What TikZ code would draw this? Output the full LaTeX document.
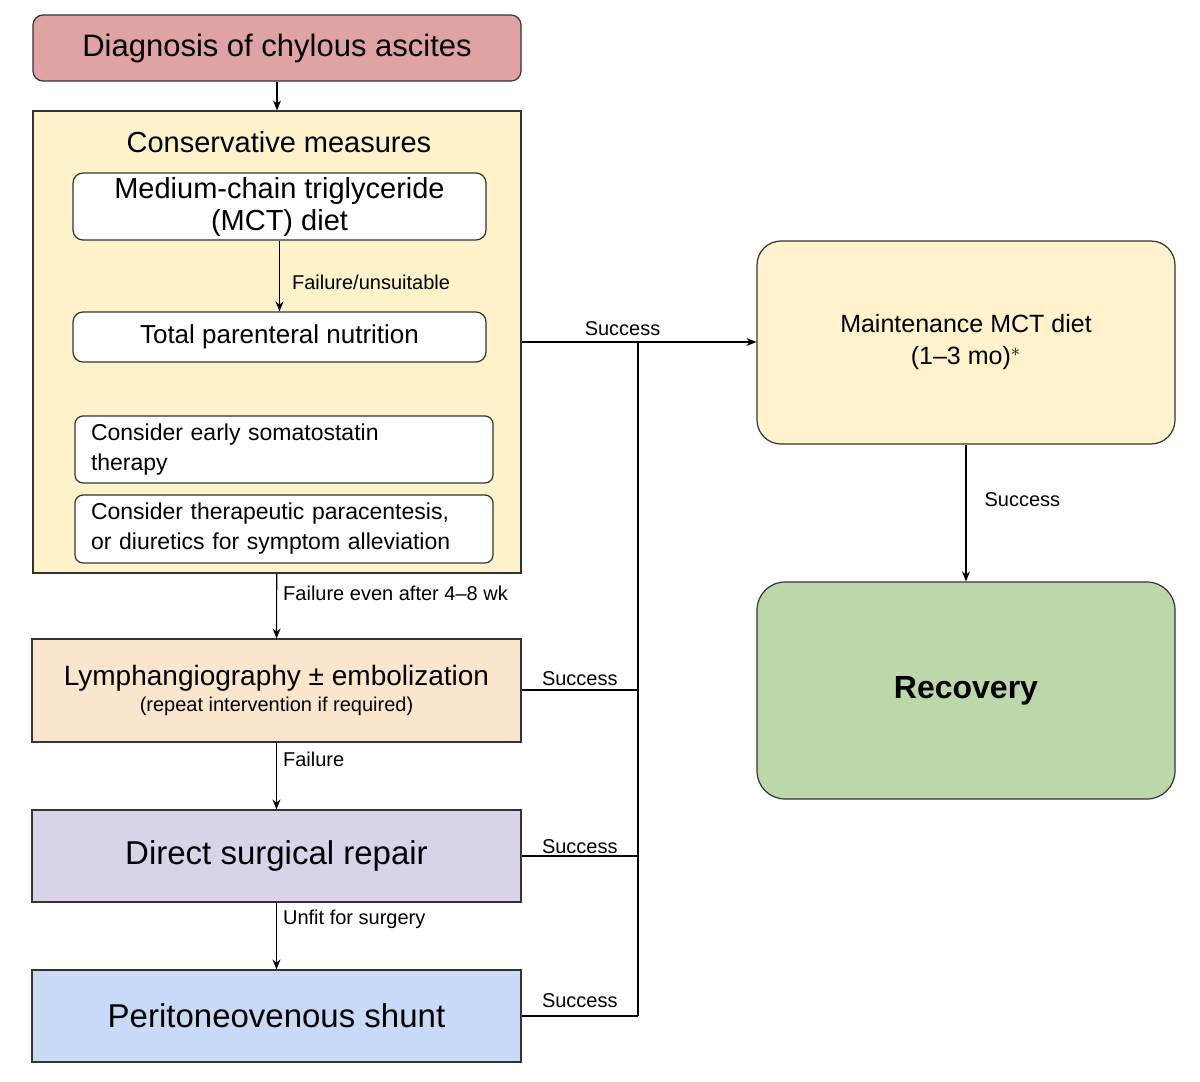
\documentclass[tikz,border=0pt]{standalone}
\usepackage{fontspec}
\setmainfont{Liberation Sans}
\usetikzlibrary{arrows.meta}
\definecolor{cdiag}{HTML}{E0A3A3}
\definecolor{ccons}{HTML}{FDF2C9}
\definecolor{clymph}{HTML}{FBE5CD}
\definecolor{cdirect}{HTML}{D9D2E9}
\definecolor{cperi}{HTML}{C9DAF8}
\definecolor{cmaint}{HTML}{FFF2CC}
\definecolor{crec}{HTML}{BCD8AA}
\begin{document}
\begin{tikzpicture}[x=0.5pt,y=-0.5pt,
  box/.style={draw=black!80,line width=0.6pt,inner sep=0pt,align=center},
  arr/.style={-{Stealth[length=5pt,width=4pt]},line width=0.6pt},
  ln/.style={line width=0.6pt},
  lab/.style={font=\fontsize{10}{12}\selectfont,inner sep=1pt}]
\useasboundingbox (0,0) rectangle (1200,1082);
\node[box,rounded corners=5pt,fill=cdiag,minimum width=244pt,minimum height=33pt,font=\fontsize{15.5}{18}\selectfont] (diag) at (277,48) {Diagnosis of chylous ascites};
\node[box,fill=ccons,minimum width=244pt,minimum height=231pt] (cons) at (277,342) {};
\node[font=\fontsize{14.5}{17}\selectfont] (ctitle) at (279,142) {Conservative measures};
\node[box,rounded corners=5pt,fill=white,minimum width=206.5pt,minimum height=33.5pt,font=\fontsize{14.5}{16}\selectfont] (mct) at (279.5,206.5) {Medium-chain triglyceride\\(MCT) diet};
\node[box,rounded corners=5pt,fill=white,minimum width=206.5pt,minimum height=25pt,font=\fontsize{13}{16}\selectfont] (tpn) at (279.5,337) {Total parenteral nutrition};
\node[box,rounded corners=4pt,fill=white,minimum width=209pt,minimum height=33.5pt,font=\fontsize{11.5}{15}\selectfont,align=left,text width=193pt] (soma) at (284,449.5) {Consider early somatostatin\\therapy};
\node[box,rounded corners=4pt,fill=white,minimum width=209pt,minimum height=34pt,font=\fontsize{11.5}{15}\selectfont,align=left,text width=193pt] (para) at (284,529) {Consider therapeutic paracentesis,\\or diuretics for symptom alleviation};
\node[box,fill=clymph,minimum width=244.5pt,minimum height=51.5pt] (lymph) at (276.5,690.5) {{\fontsize{14}{17}\selectfont Lymphangiography ± embolization}\\[1pt]{\fontsize{10}{12}\selectfont (repeat intervention if required)}};
\node[box,fill=cdirect,minimum width=244.5pt,minimum height=46pt,font=\fontsize{16.5}{19}\selectfont] (direct) at (276.5,856) {Direct surgical repair};
\node[box,fill=cperi,minimum width=244.5pt,minimum height=46pt,font=\fontsize{16.5}{19}\selectfont] (peri) at (276.5,1016) {Peritoneovenous shunt};
\node[box,rounded corners=12pt,fill=cmaint,minimum width=209pt,minimum height=101.5pt,font=\fontsize{12.5}{16}\selectfont] (maint) at (966,342.5) {Maintenance MCT diet\\(1--3 mo)$^{*}$};
\node[box,rounded corners=14pt,fill=crec,minimum width=209pt,minimum height=108.5pt,font=\fontsize{16}{19}\selectfont\bfseries] (rec) at (966,690.5) {Recovery};
\coordinate (j1) at (638,342);
\coordinate (j2) at (638,690);
\coordinate (j3) at (638,856);
\coordinate (j4) at (638,1016);
\draw[arr] (diag) -- (cons);
\draw[arr] (mct) -- node[lab,right,xshift=5pt,yshift=-3pt]{Failure/unsuitable} (tpn);
\draw[arr] (cons) -- node[lab,right,xshift=2pt,pos=0.3]{Failure even after 4--8 wk} (lymph);
\draw[arr] (lymph) -- node[lab,right,xshift=2pt,pos=0.25]{Failure} (direct);
\draw[arr] (direct) -- node[lab,right,xshift=2pt,pos=0.25]{Unfit for surgery} (peri);
\draw[arr] (cons.east |- j1) -- node[lab,above,pos=0.43,yshift=2pt]{Success} (maint.west |- j1);
\draw[ln] (j1) -- (j4);
\draw[ln] (lymph.east |- j2) -- node[lab,above,yshift=1pt]{Success} (j2);
\draw[ln] (direct.east |- j3) -- node[lab,above]{Success} (j3);
\draw[ln] (peri.east |- j4) -- node[lab,above,yshift=3pt]{Success} (j4);
\draw[arr] (maint) -- node[lab,right,xshift=8pt,pos=0.4]{Success} (rec);
\end{tikzpicture}
\end{document}
